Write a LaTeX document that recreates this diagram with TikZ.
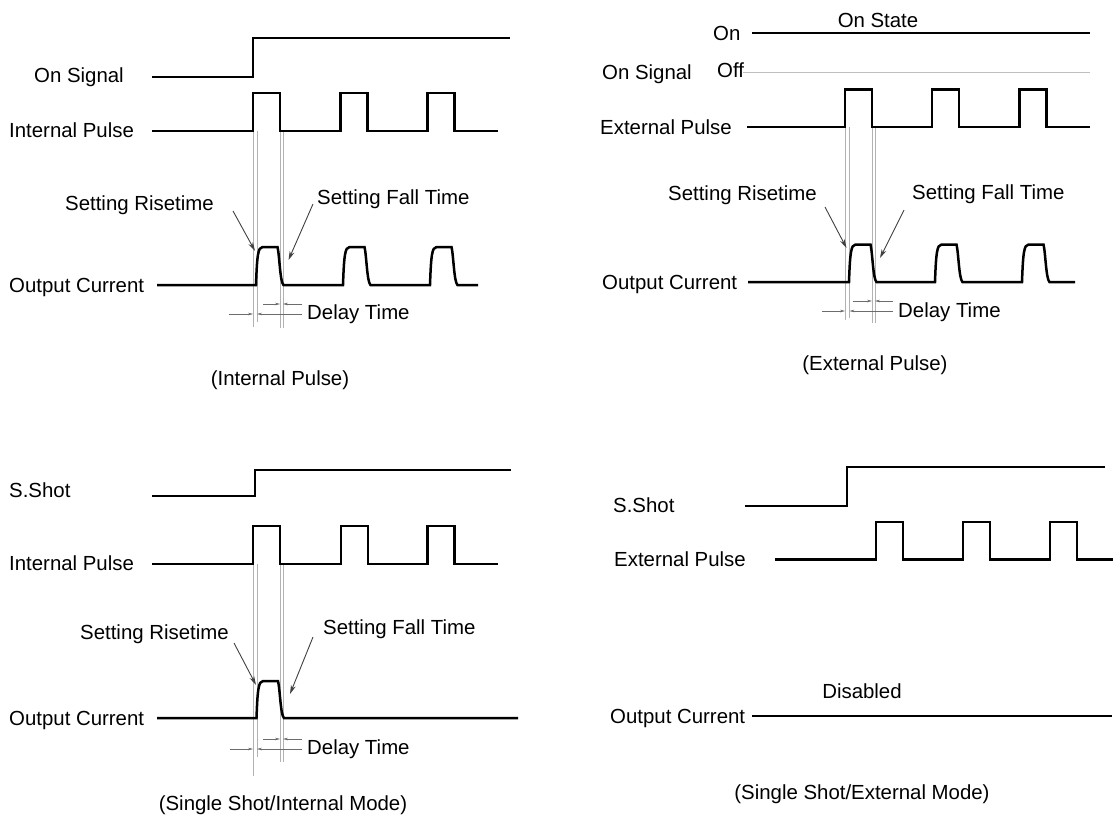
\documentclass[tikz,border=0pt]{standalone}
\usepackage{fontspec}
\setmainfont{Liberation Sans}
\usetikzlibrary{arrows.meta}
\begin{document}
\begin{tikzpicture}[x=1pt,y=-1pt,
  sig/.style={line width=2.5pt, line join=miter},
  guide/.style={line width=0.8pt, gray!60},
  offline/.style={line width=0.9pt, gray!50},
  lbl/.style={font=\fontsize{20.4}{24}\selectfont, inner sep=0pt, text height=14.6pt, text depth=0pt, anchor=west},
  captxt/.style={lbl, anchor=center},
  callout/.style={line width=0.9pt, black!75, -{Stealth[length=9pt,width=5pt]}},
  dimline/.style={line width=0.6pt, gray!85!black, -{Stealth[length=5pt,width=2.6pt]}},
  sq/.style n args={3}{insert path={-- (#1,#2) -- (#1,#3) -- (#1+27,#3) -- (#1+27,#2)}},
  op/.style n args={3}{insert path={-- (#1,#2) .. controls (#1+1,#3+9) and (#1+2,#3) .. (#1+6.5,#3) -- (#1+21.5,#3) .. controls (#1+23.5,#3+8) and (#1+24,#2-3) .. (#1+27.5,#2)}}
]
\path[use as bounding box] (0,0) rectangle (1114,819);

% ================= Top left: internal pulse =================
\node[lbl] (tlOn) at (34,75) {On Signal};
\node[lbl] (tlIP) at (9,130) {Internal Pulse};
\node[lbl] (tlOC) at (9,285) {Output Current};
\node[lbl] (tlSR) at (65,203) {Setting Risetime};
\node[lbl] (tlSF) at (317,197) {Setting Fall Time};
\node[lbl] (tlDT) at (307,312) {Delay Time};
\node[captxt] (tlCap) at (280,378) {(Internal Pulse)};

\coordinate (tlg1a) at (253,131); \coordinate (tlg1b) at (253,327);
\coordinate (tlg2a) at (257,131); \coordinate (tlg2b) at (257,322);
\coordinate (tlg3a) at (280,131); \coordinate (tlg3b) at (280,328);
\coordinate (tlg4a) at (283,131); \coordinate (tlg4b) at (283,328);
\draw[guide] (tlg1a) -- (tlg1b) (tlg2a) -- (tlg2b) (tlg3a) -- (tlg3b) (tlg4a) -- (tlg4b);

\draw[sig] (152,77) -- (253,77) -- (253,38) -- (510,38);
\draw[sig] (152,131) [sq={253}{131}{93}] [sq={340.5}{131}{93}] [sq={427.5}{131}{93}] -- (498,131);
\draw[sig] (157,285) [op={256}{285}{247}] [op={343}{285}{247}] [op={430}{285}{247}] -- (478,285);

\coordinate (tlSRa) at (233,211); \coordinate (tlSRb) at (255,251);
\coordinate (tlSFa) at (313,204); \coordinate (tlSFb) at (288.5,260);
\draw[callout] (tlSRa) -- (tlSRb);
\draw[callout] (tlSFa) -- (tlSFb);

\coordinate (tld1) at (229,314); \coordinate (tld2) at (253,314);
\coordinate (tld3) at (302,314); \coordinate (tld4) at (257,314);
\coordinate (tld5) at (263,304); \coordinate (tld6) at (280,304);
\coordinate (tld7) at (302,304); \coordinate (tld8) at (283,304);
\draw[dimline] (tld1) -- (tld2);
\draw[dimline] (tld3) -- (tld4);
\draw[dimline] (tld5) -- (tld6);
\draw[dimline] (tld7) -- (tld8);

% ================= Top right: external pulse =================
\node[captxt] (trOS) at (878,20) {On State};
\node[lbl] (trOn) at (713,33) {On};
\node[lbl] (trOff) at (717,70) {Off};
\node[lbl] (trSig) at (602,72) {On Signal};
\node[lbl] (trEP) at (600,127) {External Pulse};
\node[lbl] (trOC) at (602,282) {Output Current};
\node[lbl] (trSR) at (668,193) {Setting Risetime};
\node[lbl] (trSF) at (912,192) {Setting Fall Time};
\node[lbl] (trDT) at (898,310) {Delay Time};
\node[captxt] (trCap) at (875,363) {(External Pulse)};

\coordinate (trg1a) at (845,127); \coordinate (trg1b) at (845,320);
\coordinate (trg2a) at (849.5,127); \coordinate (trg2b) at (849.5,318);
\coordinate (trg3a) at (872,127); \coordinate (trg3b) at (872,323);
\coordinate (trg4a) at (875,127); \coordinate (trg4b) at (875,323);
\draw[guide] (trg1a) -- (trg1b) (trg2a) -- (trg2b) (trg3a) -- (trg3b) (trg4a) -- (trg4b);

\draw[sig] (752,33) -- (1090,33);
\draw[offline] (743,72) -- (1090,72);
\draw[sig] (747,127) [sq={845}{127}{89.5}] [sq={932}{127}{89.5}] [sq={1019.5}{127}{89.5}] -- (1090,127);
\draw[sig] (748,282) [op={849}{282}{244.5}] [op={935}{282}{244.5}] [op={1022}{282}{244.5}] -- (1075,282);

\coordinate (trSRa) at (825,207); \coordinate (trSRb) at (846.5,248);
\coordinate (trSFa) at (904,210); \coordinate (trSFb) at (880,258);
\draw[callout] (trSRa) -- (trSRb);
\draw[callout] (trSFa) -- (trSFb);

\coordinate (trd1) at (822,311); \coordinate (trd2) at (845,311);
\coordinate (trd3) at (893,311); \coordinate (trd4) at (849.5,311);
\coordinate (trd5) at (853,301); \coordinate (trd6) at (872,301);
\coordinate (trd7) at (893,301); \coordinate (trd8) at (875,301);
\draw[dimline] (trd1) -- (trd2);
\draw[dimline] (trd3) -- (trd4);
\draw[dimline] (trd5) -- (trd6);
\draw[dimline] (trd7) -- (trd8);

% ================= Bottom left: single shot / internal =================
\node[lbl] (blSS) at (9,490) {S.Shot};
\node[lbl] (blIP) at (9,563) {Internal Pulse};
\node[lbl] (blOC) at (9,718) {Output Current};
\node[lbl] (blSR) at (80,632) {Setting Risetime};
\node[lbl] (blSF) at (323,627) {Setting Fall Time};
\node[lbl] (blDT) at (307,747) {Delay Time};
\node[captxt] (blCap) at (283,803) {(Single Shot/Internal Mode)};

\coordinate (blg1a) at (253,564); \coordinate (blg1b) at (253,776);
\coordinate (blg2a) at (257,564); \coordinate (blg2b) at (257,757);
\coordinate (blg3a) at (280,564); \coordinate (blg3b) at (280,762);
\coordinate (blg4a) at (283,564); \coordinate (blg4b) at (283,762);
\draw[guide] (blg1a) -- (blg1b) (blg2a) -- (blg2b) (blg3a) -- (blg3b) (blg4a) -- (blg4b);

\draw[sig] (152,496) -- (255,496) -- (255,470) -- (511,470);
\draw[sig] (152,564) [sq={253}{564}{526}] [sq={341}{564}{526}] [sq={427.5}{564}{526}] -- (498,564);
\draw[sig] (157,718) [op={256.5}{718}{681}] -- (518,718);

\coordinate (blSRa) at (234,643); \coordinate (blSRb) at (256,685);
\coordinate (blSFa) at (313,637); \coordinate (blSFb) at (290,694);
\draw[callout] (blSRa) -- (blSRb);
\draw[callout] (blSFa) -- (blSFb);

\coordinate (bld1) at (230,749); \coordinate (bld2) at (253,749);
\coordinate (bld3) at (302,749); \coordinate (bld4) at (257,749);
\coordinate (bld5) at (263,739); \coordinate (bld6) at (280,739);
\coordinate (bld7) at (302,739); \coordinate (bld8) at (283,739);
\draw[dimline] (bld1) -- (bld2);
\draw[dimline] (bld3) -- (bld4);
\draw[dimline] (bld5) -- (bld6);
\draw[dimline] (bld7) -- (bld8);

% ================= Bottom right: single shot / external =================
\node[lbl] (brSS) at (613,505) {S.Shot};
\node[lbl] (brEP) at (614,559) {External Pulse};
\node[captxt] (brDis) at (862,691) {Disabled};
\node[lbl] (brOC) at (610,716) {Output Current};
\node[captxt] (brCap) at (862,792) {(Single Shot/External Mode)};

\draw[sig] (745,506) -- (847,506) -- (847,467) -- (1105,467);
\draw[sig] (775,559.5) [sq={876}{559.5}{522}] [sq={963}{559.5}{522}] [sq={1050}{559.5}{522}] -- (1113,559.5);
\draw[sig] (752,716) -- (1112,716);
\end{tikzpicture}
\end{document}
